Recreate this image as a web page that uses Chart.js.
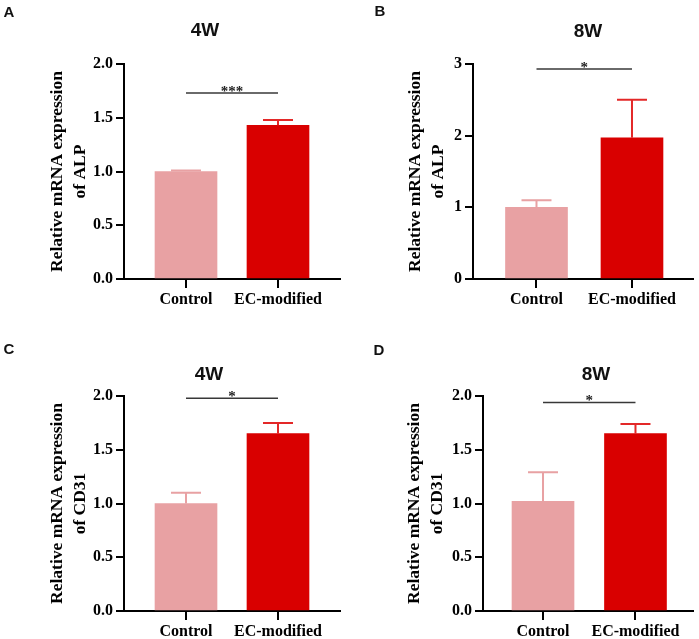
<!DOCTYPE html>
<html lang="en">
<head>
<meta charset="UTF-8">
<meta name="viewport" content="width=device-width, initial-scale=1.0">
<title>Relative mRNA expression</title>
<style>
  body { margin: 0; background: #fff; }
  #figure { position: relative; width: 699px; height: 639px; overflow: hidden; background: #fff; }
  canvas { position: absolute; }
  .letter, .title {
    position: absolute; transform: translate(-50%, -50%);
    font-family: 'Liberation Sans', Arial, sans-serif; font-weight: bold;
    color: #111; white-space: nowrap; line-height: 1;
  }
  .letter { font-size: 15px; }
  .title { font-size: 19px; }
</style>
</head>
<body>
<div id="figure">
  <canvas id="chartA" width="350" height="320" style="left:0;top:0"></canvas>
  <canvas id="chartB" width="349" height="320" style="left:350px;top:0"></canvas>
  <canvas id="chartC" width="350" height="319" style="left:0;top:320px"></canvas>
  <canvas id="chartD" width="349" height="319" style="left:350px;top:320px"></canvas>

  <div class="letter" style="left:9px;top:11px">A</div>
  <div class="letter" style="left:380px;top:10px">B</div>
  <div class="letter" style="left:9px;top:348px">C</div>
  <div class="letter" style="left:379px;top:349px">D</div>

  <div class="title" style="left:205px;top:29px">4W</div>
  <div class="title" style="left:588px;top:30px">8W</div>
  <div class="title" style="left:209px;top:373px">4W</div>
  <div class="title" style="left:596px;top:373px">8W</div>
</div>

<script src="https://cdn.jsdelivr.net/npm/chart.js"></script>
<script>
// groups on the x axis
const groups = ['Control', 'EC-modified'];

// ALP, 4 weeks
const alp4wMean = [1.00, 1.43];
const alp4wSD = [0.01, 0.05];
// ALP, 8 weeks
const alp8wMean = [1.00, 1.97];
const alp8wSD = [0.10, 0.53];
// CD31, 4 weeks
const cd31_4wMean = [1.00, 1.65];
const cd31_4wSD = [0.10, 0.10];
// CD31, 8 weeks
const cd31_8wMean = [1.02, 1.65];
const cd31_8wSD = [0.27, 0.09];

// significance bars (height, label)
const sigLevels = [1.73, 2.93, 1.98, 1.94];
const sigLabels = ['***', '*', '*', '*'];

// y axis ticks
const yTicksALP4w = [0, 0.5, 1.0, 1.5, 2.0];
const yTicksALP8w = [0, 1, 2, 3];
const yTicksCD31 = [0, 0.5, 1.0, 1.5, 2.0];

const barColors = ['#E8A1A3', '#D90000'];
const errColors = ['#E8A1A3', '#E32828'];

Chart.defaults.font.family = "'Liberation Serif', 'Times New Roman', serif";
Chart.defaults.color = '#000';

// error bars, group tick marks and the significance line
const annotate = {
    id: 'annotate',
    afterDraw(chart, args, opts) {
        const ctx = chart.ctx;
        const y = chart.scales.y;
        const area = chart.chartArea;
        const bars = chart.getDatasetMeta(0).data;
        ctx.save();

        // tick marks under each group
        ctx.fillStyle = '#000';
        bars.forEach(bar => {
            ctx.fillRect(Math.round(bar.x) - 1, area.bottom, 2, 9);
        });

        ctx.lineWidth = 2;
        bars.forEach((bar, i) => {
            const top = y.getPixelForValue(opts.mean[i] + opts.sd[i]);
            ctx.strokeStyle = errColors[i];
            ctx.beginPath();
            ctx.moveTo(bar.x, bar.y);
            ctx.lineTo(bar.x, top);
            ctx.moveTo(bar.x - 15, top);
            ctx.lineTo(bar.x + 15, top);
            ctx.stroke();
        });

        const sy = y.getPixelForValue(opts.sig);
        ctx.strokeStyle = '#383838';
        ctx.lineWidth = 1.5;
        ctx.beginPath();
        ctx.moveTo(bars[0].x, sy);
        ctx.lineTo(bars[1].x, sy);
        ctx.stroke();
        ctx.fillStyle = '#222';
        ctx.font = "bold 15px 'Liberation Serif'";
        ctx.textAlign = 'center';
        ctx.textBaseline = 'alphabetic';
        ctx.fillText(opts.stars, (bars[0].x + bars[1].x) / 2, sy + 3);
        ctx.restore();
    }
};

function makePanel(id, p) {
    const canvas = document.getElementById(id);
    const W = canvas.width, H = canvas.height;
    return new Chart(canvas, {
        type: 'bar',
        data: {
            datasets: [{
                data: p.mean.map((v, i) => ({ x: i, y: v })),
                backgroundColor: barColors,
                borderWidth: 0,
                barThickness: 62
            }]
        },
        options: {
            responsive: false,
            animation: false,
            layout: { padding: { left: 0, top: p.area.top, right: W - p.area.right, bottom: 0 } },
            plugins: {
                legend: { display: false },
                tooltip: { enabled: false },
                annotate: { mean: p.mean, sd: p.sd, sig: p.sig, stars: p.stars }
            },
            scales: {
                x: {
                    type: 'linear',
                    offset: false,
                    min: p.xMin,
                    max: p.xMax,
                    afterBuildTicks: s => { s.ticks = groups.map((g, i) => ({ value: i })); },
                    afterFit: s => { s.height = H - p.area.bottom; },
                    ticks: {
                        callback: v => groups[v],
                        font: { size: 16, weight: 'bold' },
                        maxRotation: 0,
                        autoSkip: false,
                        padding: 3
                    },
                    grid: { offset: false, drawOnChartArea: false, drawTicks: true, tickLength: 8, color: 'rgba(0,0,0,0)', lineWidth: 2 },
                    border: { display: true, color: '#000', width: 2 }
                },
                y: {
                    min: 0,
                    max: p.yTicks[p.yTicks.length - 1],
                    afterBuildTicks: s => { s.ticks = p.yTicks.map(v => ({ value: v })); },
                    afterFit: s => { s.width = p.area.left; },
                    ticks: {
                        callback: v => v.toFixed(p.decimals),
                        font: { size: 16, weight: 'bold' },
                        padding: 3
                    },
                    grid: { drawOnChartArea: false, drawTicks: true, tickLength: 8, color: '#000', lineWidth: 2 },
                    border: { display: true, color: '#000', width: 2 },
                    title: {
                        display: true,
                        text: ['Relative mRNA expression', p.gene],
                        font: { size: 17.5, weight: 'bold', lineHeight: 23 / 17.5 },
                        color: '#000',
                        padding: { top: p.titlePad, bottom: 0 }
                    }
                }
            }
        },
        plugins: [annotate]
    });
}

makePanel('chartA', {
    mean: alp4wMean, sd: alp4wSD, sig: sigLevels[0], stars: sigLabels[0],
    yTicks: yTicksALP4w, decimals: 1, gene: 'of ALP',
    area: { left: 124, right: 340, top: 64, bottom: 279 }, xMin: -0.674, xMax: 1.674, titlePad: 45.5
});
makePanel('chartB', {
    mean: alp8wMean, sd: alp8wSD, sig: sigLevels[1], stars: sigLabels[1],
    yTicks: yTicksALP8w, decimals: 0, gene: 'of ALP',
    area: { left: 123, right: 343, top: 64, bottom: 279 }, xMin: -0.665, xMax: 1.639, titlePad: 53.5
});
makePanel('chartC', {
    mean: cd31_4wMean, sd: cd31_4wSD, sig: sigLevels[2], stars: sigLabels[2],
    yTicks: yTicksCD31, decimals: 1, gene: 'of CD31',
    area: { left: 124, right: 340, top: 76, bottom: 291 }, xMin: -0.674, xMax: 1.674, titlePad: 45.5
});
makePanel('chartD', {
    mean: cd31_8wMean, sd: cd31_8wSD, sig: sigLevels[3], stars: sigLabels[3],
    yTicks: yTicksCD31, decimals: 1, gene: 'of CD31',
    area: { left: 133, right: 343, top: 76, bottom: 291 }, xMin: -0.649, xMax: 1.622, titlePad: 52.5
});
</script>
</body>
</html>
